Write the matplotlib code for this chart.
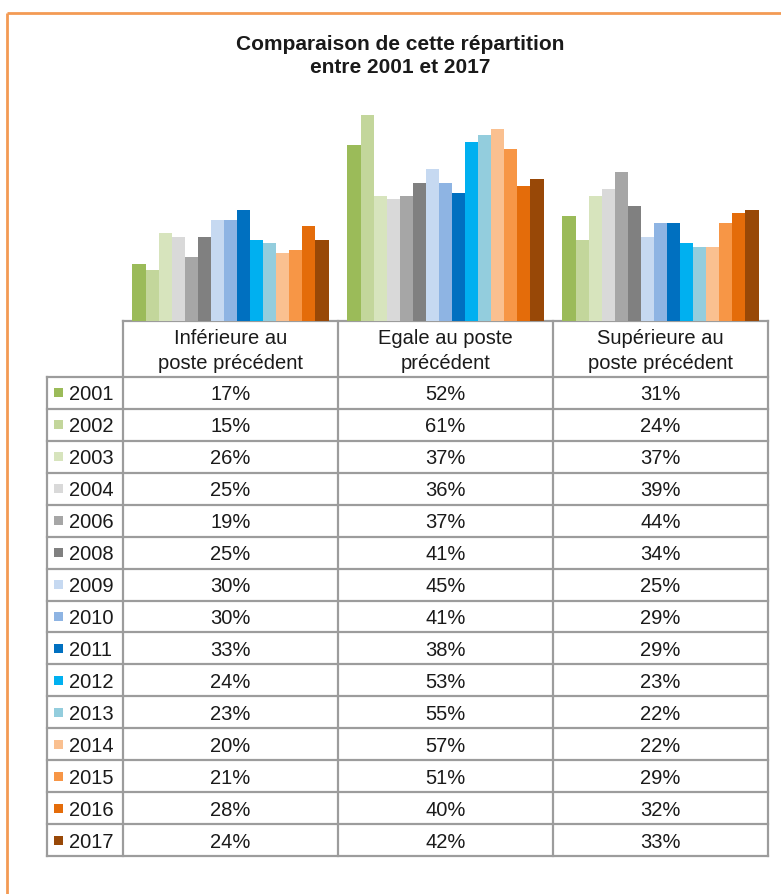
import matplotlib.pyplot as plt
import numpy as np
from matplotlib.patches import Rectangle

plt.rcParams['font.family'] = ['Liberation Sans', 'DejaVu Sans']

# data
annees = ['2001', '2002', '2003', '2004', '2006', '2008', '2009', '2010',
          '2011', '2012', '2013', '2014', '2015', '2016', '2017']
categories = ['Inférieure au\nposte précédent', 'Egale au poste\nprécédent',
              'Supérieure au\nposte précédent']
inferieure = [17, 15, 26, 25, 19, 25, 30, 30, 33, 24, 23, 20, 21, 28, 24]
egale = [52, 61, 37, 36, 37, 41, 45, 41, 38, 53, 55, 57, 51, 40, 42]
superieure = [31, 24, 37, 39, 44, 34, 25, 29, 29, 23, 22, 22, 29, 32, 33]
couleurs = ['#9bbb59', '#c3d69b', '#d7e4bd', '#d9d9d9', '#a6a6a6', '#808080',
            '#c6d9f1', '#8eb4e3', '#0070c0', '#00b0f0', '#93cddd', '#fac090',
            '#f79646', '#e46c0a', '#984807']

W, H = 781, 895
fig = plt.figure(figsize=(W / 100, H / 100), dpi=100)

# overlay axes in pixel coords for frame + table
ov = fig.add_axes([0, 0, 1, 1])
ov.set_xlim(0, W)
ov.set_ylim(H, 0)
ov.axis('off')

# orange frame (only top and left visible)
ov.plot([7, 7], [14, H + 5], color='#f39a54', lw=2, solid_capstyle='butt')
ov.plot([7, W + 5], [14, 14], color='#f39a54', lw=2, solid_capstyle='butt')

fig.text(400 / W, (H - 56) / H, 'Comparaison de cette répartition\nentre 2001 et 2017',
         ha='center', va='center', fontsize=15, fontweight='bold',
         color='#1a1a1a', linespacing=1.3)

# bar chart
x0, x1, ybot, ytop = 123, 768, 322, 85.6
ax = fig.add_axes([x0 / W, (H - ybot) / H, (x1 - x0) / W, (ybot - ytop) / H])
series = np.array([inferieure, egale, superieure])
n = len(annees)
largeur = 0.912 / n
for j in range(n):
    ax.bar(np.arange(3) + (j - (n - 1) / 2) * largeur, series[:, j], largeur,
           color=couleurs[j], linewidth=0)
ax.set_xlim(-0.5, 2.5)
ax.set_ylim(0, 70)
ax.axis('off')

# data table
gris = '#9c9c9c'
cols = [123, 338, 553, 768]
leg_x = 47
head_top, head_bot = 322, 378
row_h = (857 - head_bot) / n
bottom = head_bot + n * row_h

ov.plot([cols[0], cols[-1]], [head_top, head_top], color=gris, lw=1.6)
for k in range(n + 1):
    y = head_bot + k * row_h
    ov.plot([leg_x, cols[-1]], [y, y], color=gris, lw=1.6)
for cx in cols:
    ov.plot([cx, cx], [head_top, bottom], color=gris, lw=1.6)
ov.plot([leg_x, leg_x], [head_bot, bottom], color=gris, lw=1.6)

fs = 14.5
for i, cat in enumerate(categories):
    ov.text((cols[i] + cols[i + 1]) / 2, (head_top + head_bot) / 2 + 1, cat,
            ha='center', va='center', fontsize=fs, color='#1a1a1a',
            linespacing=1.4)

for j in range(n):
    yc = head_bot + (j + 0.5) * row_h
    ov.add_patch(Rectangle((54, yc - 4.5), 9, 9, color=couleurs[j], lw=0))
    ov.text(69, yc + 1, annees[j], ha='left', va='center', fontsize=fs,
            color='#1a1a1a')
    for i in range(3):
        ov.text((cols[i] + cols[i + 1]) / 2, yc + 1, f'{series[i, j]}%',
                ha='center', va='center', fontsize=fs, color='#1a1a1a')

fig.savefig('out.png', dpi=100, facecolor='white')
